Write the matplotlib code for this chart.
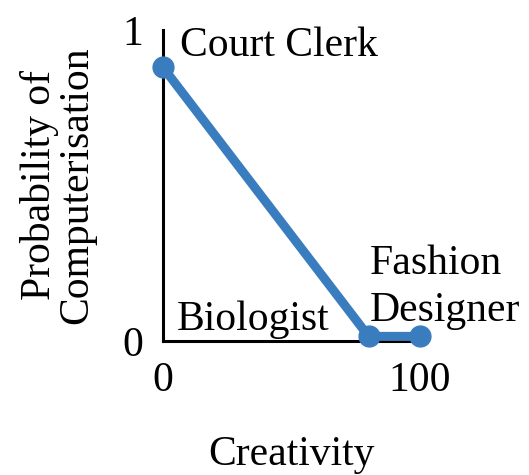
import matplotlib

matplotlib.use("Agg")
import matplotlib.pyplot as plt

plt.rcParams["font.family"] = ["Liberation Serif", "DejaVu Serif"]

BLUE = "#3a7dbf"
FS = 30

# occupations along the curve
jobs = ["Court Clerk", "Biologist", "Fashion\nDesigner"]
creativity = [0, 80, 100]
prob = [0.88, 0.015, 0.015]

fig = plt.figure(figsize=(5.29, 4.75), dpi=100)
ax = fig.add_axes([0.308, 0.282, 0.486, 0.655])

ax.plot(creativity, prob, color=BLUE, lw=6.5, marker="o", ms=15,
        solid_capstyle="round", clip_on=False, zorder=3)

ax.set_xlim(0, 100)
ax.set_ylim(0, 1)
ax.set_xticks([0, 100])
ax.set_yticks([0, 1])
ax.tick_params(length=0, labelsize=FS)
ax.tick_params(axis="x", pad=15)
ax.tick_params(axis="y", pad=14)
for side in ("top", "right"):
    ax.spines[side].set_visible(False)
for side in ("left", "bottom"):
    ax.spines[side].set_linewidth(2.2)
    ax.spines[side].set_color("black")

ax.set_xlabel("Creativity", fontsize=FS, labelpad=25)
ax.set_ylabel("Probability of\nComputerisation", fontsize=FS,
              labelpad=19, linespacing=0.95)

# labels next to the points
ax.text(6.6, 0.95, jobs[0], fontsize=FS, va="center", ha="left")
ax.text(5.4, 0.035, jobs[1], fontsize=FS, va="baseline", ha="left")
ax.text(80.5, 0.31, jobs[2], fontsize=FS, va="top", ha="left",
        linespacing=1.3)

fig.savefig("out.png", dpi=100)
